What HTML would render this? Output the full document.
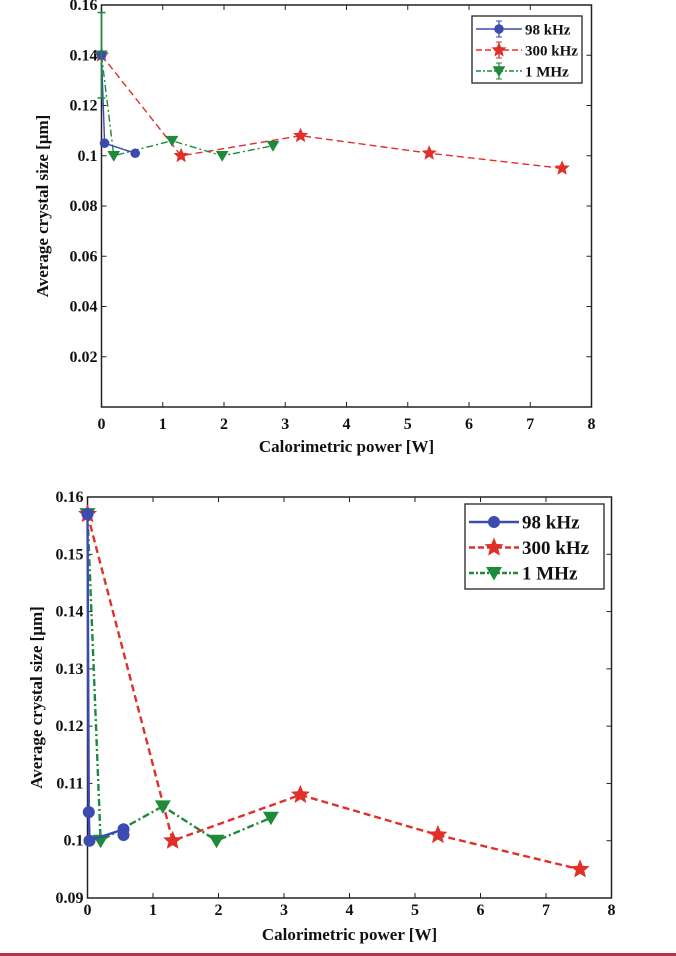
<!DOCTYPE html>
<html><head><meta charset="utf-8"><style>
html,body{margin:0;padding:0;background:#fff;width:676px;height:956px;overflow:hidden}
svg{display:block}
text{font-family:"Liberation Serif",serif;fill:#111;font-weight:bold}
</style></head><body>
<svg id="svg" width="676" height="956" xmlns="http://www.w3.org/2000/svg"></svg>
<script>
// Shared data
const xTicks = [0,1,2,3,4,5,6,7,8];
const topYTicks = [0.02,0.04,0.06,0.08,0.1,0.12,0.14,0.16];
const topYLabels = ["0.02","0.04","0.06","0.08","0.1","0.12","0.14","0.16"];
const botYTicks = [0.09,0.1,0.11,0.12,0.13,0.14,0.15,0.16];
const botYLabels = ["0.09","0.1","0.11","0.12","0.13","0.14","0.15","0.16"];
// top panel series
const topBlueX = [0,0.05,0.55];
const topBlueY = [0.14,0.105,0.101];
const topRedX = [0,1.3,3.25,5.35,7.52];
const topRedY = [0.14,0.1,0.108,0.101,0.095];
const topGreenX = [0,0.2,1.15,1.97,2.8];
const topGreenY = [0.14,0.1,0.106,0.1,0.104];
const topErrLo = [0.123];
const topErrHi = [0.157];
// bottom panel series
const botBlueX = [0,0.02,0.03,0.55,0.55];
const botBlueY = [0.157,0.105,0.1,0.102,0.101];
const botRedX = [0,1.3,3.25,5.35,7.52];
const botRedY = [0.157,0.1,0.108,0.101,0.095];
const botGreenX = [0,0.2,1.15,1.97,2.8];
const botGreenY = [0.157,0.1,0.106,0.1,0.104];

const NS="http://www.w3.org/2000/svg";
const svg=document.getElementById('svg');
function mk(tag,attrs,parent){const e=document.createElementNS(NS,tag);for(const k in attrs)e.setAttribute(k,attrs[k]);(parent||svg).appendChild(e);return e;}
const BLUE="#3b4bb0",RED="#e0302a",GREEN="#1f8a3a";

function star(cx,cy,r){let p=[];for(let i=0;i<10;i++){const a=-Math.PI/2+i*Math.PI/5;const rr=i%2?r*0.45:r;p.push((cx+rr*Math.cos(a)).toFixed(1)+","+(cy+rr*Math.sin(a)).toFixed(1));}return p.join(" ");}
function marker(g,type,cx,cy,col,s){
  let e;
  if(type==='circle'){e=mk('circle',{cx:cx,cy:cy,r:s*0.6,fill:col},g);}
  else if(type==='star'){e=mk('polygon',{points:star(cx,cy,s),fill:col},g);}
  else {e=mk('polygon',{points:`${cx-s*0.8},${cy-s*0.6} ${cx+s*0.8},${cy-s*0.6} ${cx},${cy+s*0.75}`,fill:col},g);}
  
  
}

function panel(cfg){
  const g=mk('g',{});
  
  
  const {x0,x1,yTop,yBot,yMin,yMax}=cfg;
  const sx=v=>x0+(v-0)/(8-0)*(x1-x0);
  const sy=v=>yBot-(v-yMin)/(yMax-yMin)*(yBot-yTop);
  const fr=mk('rect',{x:x0,y:yTop,width:x1-x0,height:yBot-yTop,fill:'none',stroke:'#222','stroke-width':1.5},g);
  
  
  xTicks.forEach(t=>{
    const x=sx(t);
    mk('line',{x1:x,x2:x,y1:yBot,y2:yBot-5,stroke:'#222'},g);
    mk('line',{x1:x,x2:x,y1:yTop,y2:yTop+5,stroke:'#222'},g);
    const tx=mk('text',{x:x,y:yBot+cfg.xlOff,'text-anchor':'middle','font-size':cfg.fs},g);
    tx.textContent=t;
    
    
  });
  cfg.yt.forEach((t,i)=>{
    const y=sy(t);
    mk('line',{x1:x0,x2:x0+5,y1:y,y2:y,stroke:'#222'},g);
    mk('line',{x1:x1,x2:x1-5,y1:y,y2:y,stroke:'#222'},g);
    const tx=mk('text',{x:x0-4,y:y+5,'text-anchor':'end','font-size':cfg.fs},g);
    tx.textContent=cfg.yl[i];
    
    
  });
  const xt=mk('text',{x:(x0+x1)/2,y:cfg.xTitleY,'text-anchor':'middle','font-size':cfg.fs+1},g);
  xt.textContent='Calorimetric power [W]';
  
  
  const yt=mk('text',{x:0,y:0,'text-anchor':'middle','font-size':cfg.fs+1,transform:`translate(${cfg.yTitleX},${(yTop+yBot)/2}) rotate(-90)`},g);
  yt.textContent='Average crystal size [\u03bcm]';
  
  
  const series=[
    {X:cfg.rx,Y:cfg.ry,c:RED,dash:'7,4',m:'star',n:'series-300khz'},
    {X:cfg.gx,Y:cfg.gy,c:GREEN,dash:'7,3,2,3',m:'tri',n:'series-1mhz'},
    {X:cfg.bx,Y:cfg.by,c:BLUE,dash:'',m:'circle',n:'series-98khz'}];
  series.forEach(s=>{
    const sg=mk('g',{},g);
    
    
    const pts=s.X.map((x,i)=>sx(x).toFixed(1)+','+sy(s.Y[i]).toFixed(1)).join(' ');
    const pl=mk('polyline',{points:pts,fill:'none',stroke:s.c,'stroke-width':cfg.lw,'stroke-dasharray':s.dash},sg);
    
    
    s.X.forEach((x,i)=>marker(sg,s.m,sx(x),sy(s.Y[i]),s.c,cfg.ms));
  });
  if(cfg.err){
    const x=sx(0);
    const eb=mk('g',{},g);
    
    
    mk('line',{x1:x,x2:x,y1:sy(topErrLo[0]),y2:sy(topErrHi[0]),stroke:GREEN,'stroke-width':1.5},eb);
    [topErrLo[0],topErrHi[0]].forEach(v=>mk('line',{x1:x-4,x2:x+4,y1:sy(v),y2:sy(v),stroke:GREEN,'stroke-width':1.5},eb));
  }
  const L=cfg.leg;
  const lg=mk('g',{},g);
  
  
  mk('rect',{x:L.x,y:L.y,width:L.w,height:L.h,fill:'#fff',stroke:'#222','stroke-width':1.3},lg);
  const items=[['98 kHz',BLUE,'','circle'],['300 kHz',RED,'6,3','star'],['1 MHz',GREEN,'5,2,2,2','tri']];
  items.forEach((it,i)=>{
    const y=L.y+L.r0+i*L.dy;
    const eg=mk('g',{},lg);
    
    
    mk('line',{x1:L.x+4,x2:L.x+L.lx,y1:y,y2:y,stroke:it[1],'stroke-width':cfg.lw,'stroke-dasharray':it[2]},eg);
    const mx=L.x+4+(L.lx-4)/2;
    if(cfg.err){mk('line',{x1:mx,x2:mx,y1:y-8,y2:y+8,stroke:it[1],'stroke-width':1.3},eg);
      mk('line',{x1:mx-3,x2:mx+3,y1:y-8,y2:y-8,stroke:it[1]},eg);mk('line',{x1:mx-3,x2:mx+3,y1:y+8,y2:y+8,stroke:it[1]},eg);}
    marker(eg,it[3],mx,y,it[1],cfg.ms);
    const t=mk('text',{x:L.x+L.lx+3,y:y+L.fs*0.35,'font-size':L.fs},eg);
    t.textContent=it[0];
  });
}

panel({name:'top-chart',x0:101.5,x1:591.5,yTop:5,yBot:407,yMin:0,yMax:0.16,
  yt:topYTicks,yl:topYLabels,fs:16,xlOff:22,xTitleY:452,yTitleX:48,lw:1.4,ms:8,err:true,
  rx:topRedX,ry:topRedY,gx:topGreenX,gy:topGreenY,bx:topBlueX,by:topBlueY,
  leg:{x:472,y:16,w:110,h:67,r0:13,dy:21,lx:50,fs:15}});
panel({name:'bottom-chart',x0:87.5,x1:611.5,yTop:497,yBot:898,yMin:0.09,yMax:0.16,
  yt:botYTicks,yl:botYLabels,fs:16,xlOff:17,xTitleY:940,yTitleX:42,lw:2.4,ms:10,err:false,
  rx:botRedX,ry:botRedY,gx:botGreenX,gy:botGreenY,bx:botBlueX,by:botBlueY,
  leg:{x:465,y:504,w:139,h:85,r0:18,dy:25.5,lx:54,fs:19}});
const bar=mk('rect',{x:0,y:953,width:676,height:3,fill:'#b5324a'});


</script>
</body></html>
